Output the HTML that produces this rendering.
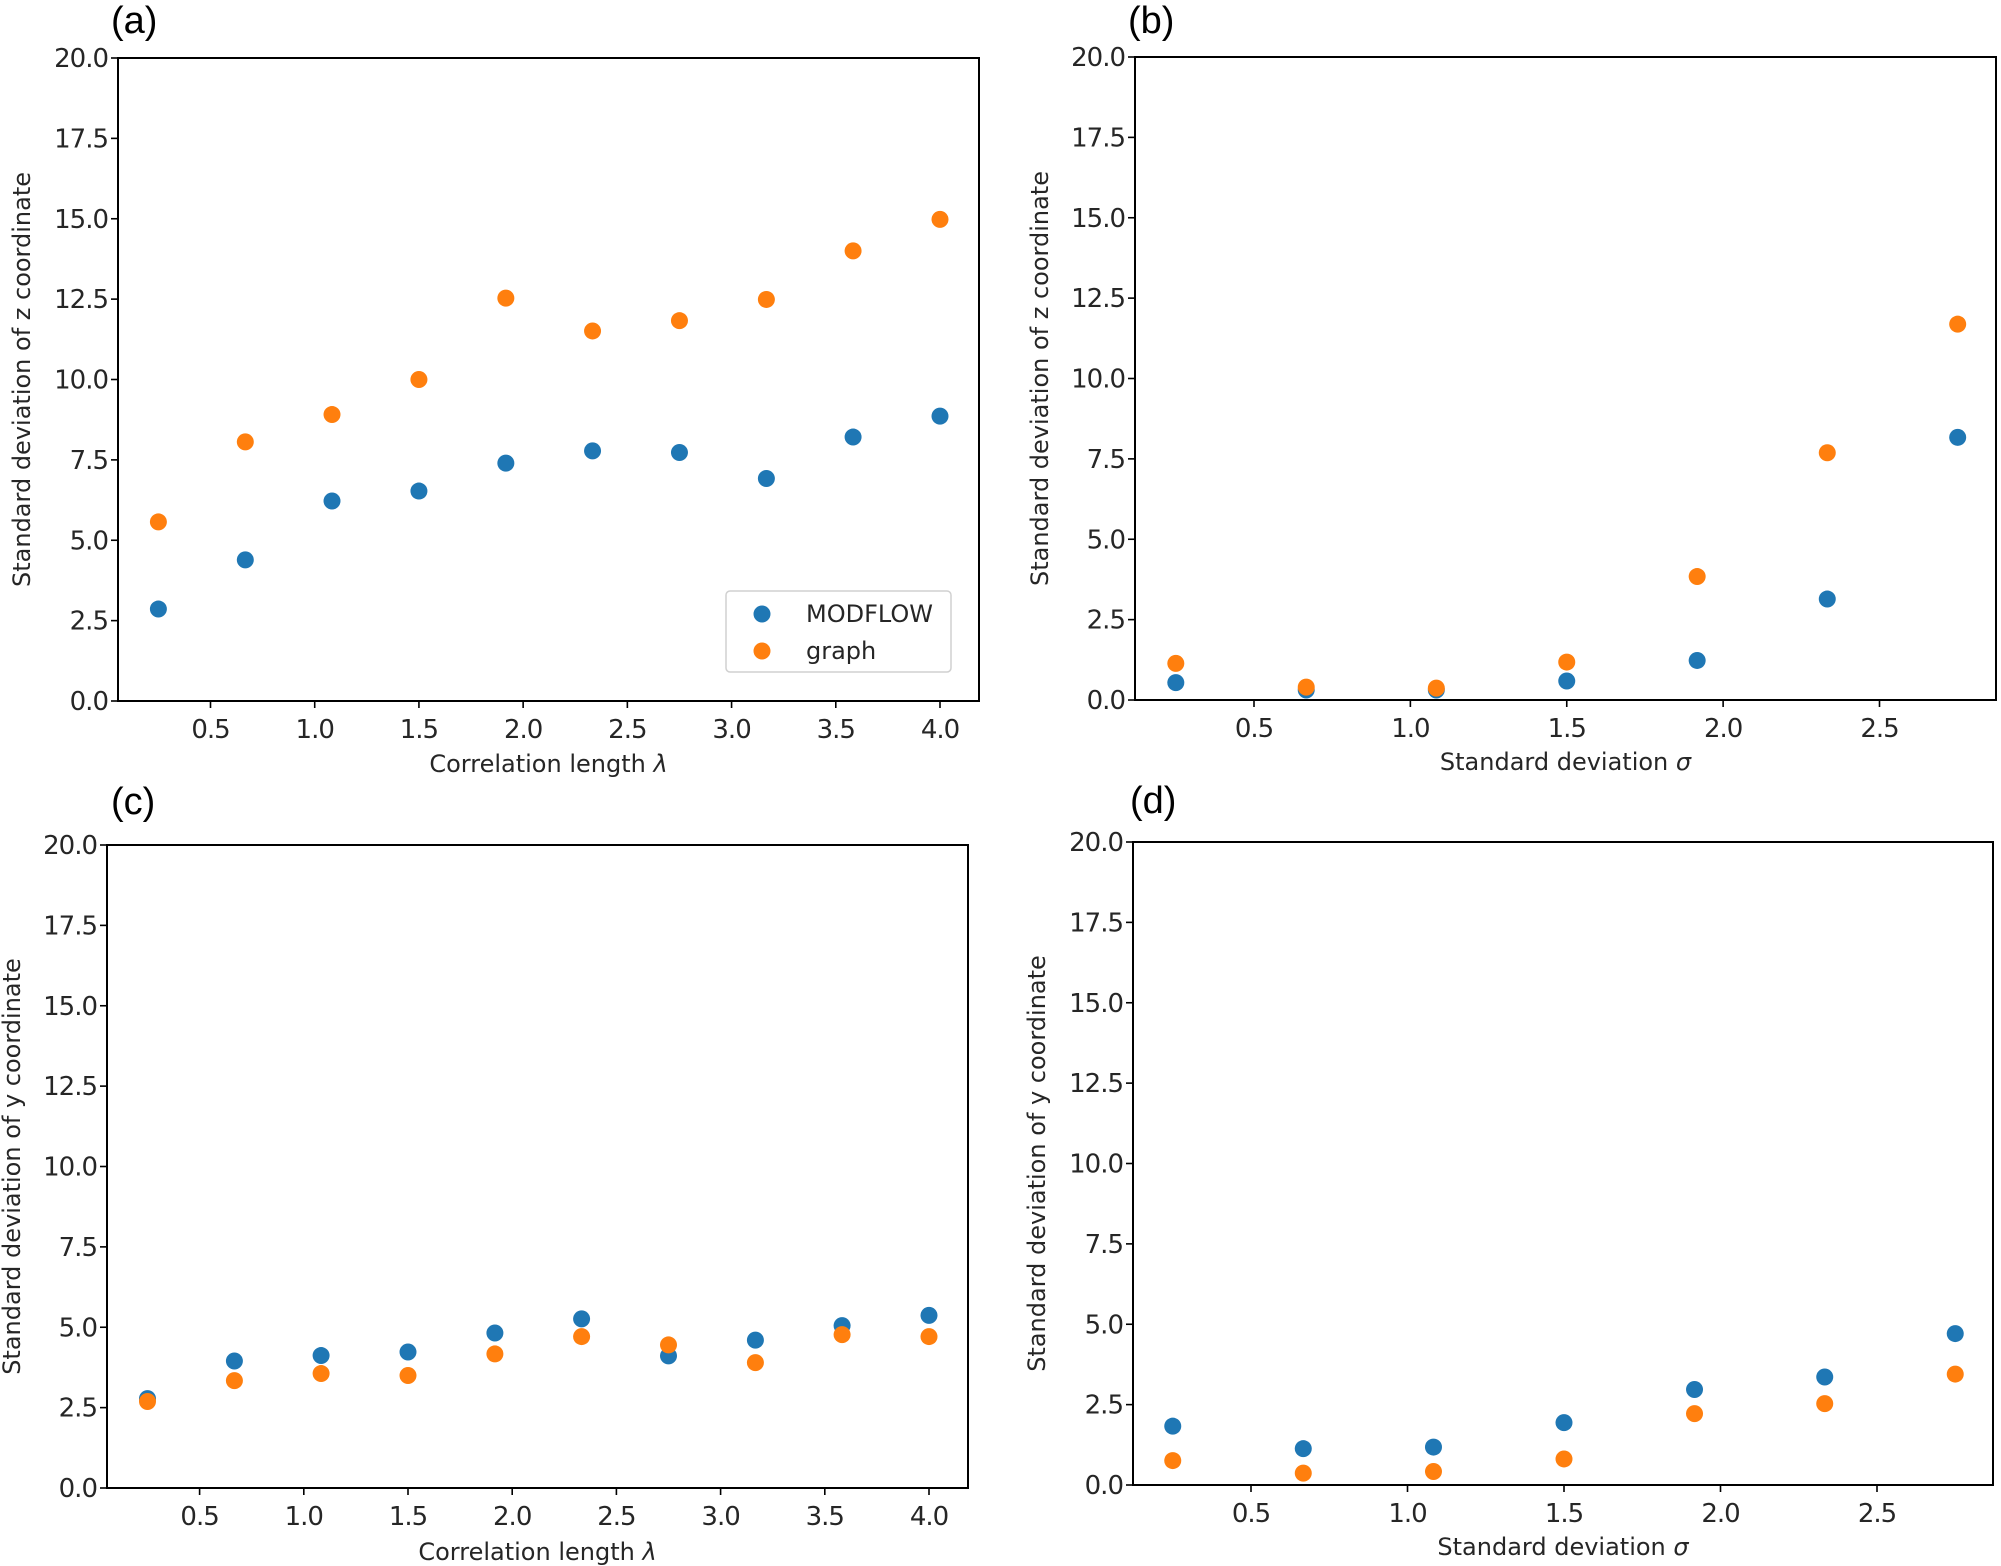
<!DOCTYPE html>
<html><head><meta charset="utf-8"><style>
html,body{margin:0;padding:0;background:#fff}
svg{display:block}
text{fill:#262626}
.tick{font-family:"DejaVu Sans","Liberation Sans",sans-serif;font-size:26px;letter-spacing:-1px}
.ttl{font-family:"DejaVu Sans","Liberation Sans",sans-serif;font-size:24px}
.lab{font-family:"Liberation Sans",sans-serif;font-size:38px;fill:#000}
</style></head><body>
<svg id="fig" width="2001" height="1566" viewBox="0 0 2001 1566" xmlns="http://www.w3.org/2000/svg"></svg>
<script>
const lambdaX = [0.25, 0.667, 1.083, 1.5, 1.917, 2.333, 2.75, 3.167, 3.583, 4.0];
const sigmaX = [0.25, 0.667, 1.083, 1.5, 1.917, 2.333, 2.75];
const aModflow = [2.86, 4.39, 6.22, 6.53, 7.40, 7.78, 7.73, 6.92, 8.21, 8.86];
const aGraph = [5.57, 8.06, 8.91, 10.0, 12.53, 11.51, 11.83, 12.49, 14.0, 14.98];
const bModflow = [0.54, 0.31, 0.31, 0.59, 1.23, 3.14, 8.17];
const bGraph = [1.14, 0.40, 0.37, 1.18, 3.84, 7.69, 11.69];
const cModflow = [2.78, 3.95, 4.12, 4.23, 4.82, 5.26, 4.11, 4.60, 5.05, 5.37];
const cGraph = [2.69, 3.34, 3.56, 3.50, 4.17, 4.71, 4.45, 3.90, 4.77, 4.71];
const dModflow = [1.83, 1.13, 1.18, 1.94, 2.97, 3.36, 4.71];
const dGraph = [0.76, 0.37, 0.42, 0.81, 2.22, 2.53, 3.45];
const yTicks = [0, 2.5, 5, 7.5, 10, 12.5, 15, 17.5, 20];
const lambdaTicks = [0.5, 1.0, 1.5, 2.0, 2.5, 3.0, 3.5, 4.0];
const sigmaTicks = [0.5, 1.0, 1.5, 2.0, 2.5];

const NS = "http://www.w3.org/2000/svg";
const svg = document.getElementById("fig");
function mk(tag, attrs, parent, txt) {
  const e = document.createElementNS(NS, tag);
  for (const k in attrs) e.setAttribute(k, attrs[k]);
  if (txt !== undefined) e.textContent = txt;
  (parent || svg).appendChild(e);
  return e;
}
const BLUE = "#1f77b4", ORANGE = "#ff7f0e";

function panel(p) {
  const g = mk("g", {});
  
  
  const xs = v => p.x0px + (v - p.x0v) * (p.x1px - p.x0px) / (p.x1v - p.x0v);
  const ys = v => p.bottom - v * (p.bottom - p.top) / 20;
  const frame = mk("rect", {x: p.left, y: p.top, width: p.right - p.left, height: p.bottom - p.top, fill: "none", stroke: "#000", "stroke-width": 2}, g);
  
  
  yTicks.forEach(v => {
    const y = ys(v);
    const t = mk("line", {x1: p.left - 7, x2: p.left, y1: y, y2: y, stroke: "#000", "stroke-width": 1.6}, g);
    
    
    const l = mk("text", {x: p.left - 10, y: y + 9, "text-anchor": "end", class: "tick"}, g, v.toFixed(1));
    
    
  });
  p.xticks.forEach(v => {
    const x = xs(v);
    const t = mk("line", {x1: x, x2: x, y1: p.bottom, y2: p.bottom + 7, stroke: "#000", "stroke-width": 1.6}, g);
    
    
    const l = mk("text", {x: x, y: p.bottom + 37, "text-anchor": "middle", class: "tick"}, g, v.toFixed(1));
    
    
  });
  const xt = mk("text", {x: (p.left + p.right) / 2, y: p.xtY, "text-anchor": "middle", class: "ttl"}, g);
  
  
  xt.textContent = p.xtitle + " ";
  mk("tspan", {"font-style": "italic"}, xt, p.sym);
  const cy = (p.top + p.bottom) / 2;
  const yt = mk("text", {x: p.ytX, y: cy, "text-anchor": "middle", class: "ttl", transform: `rotate(-90 ${p.ytX} ${cy})`}, g, p.ytitle);
  
  
  const lab = mk("text", {x: p.labX, y: p.labY, class: "lab"}, g, "(" + p.id + ")");
  
  
  p.xs.forEach((xv, i) => {
    const c1 = mk("circle", {cx: xs(xv), cy: ys(p.blue[i]), r: 8.5, fill: BLUE}, g);
    
    
  });
  p.xs.forEach((xv, i) => {
    const c2 = mk("circle", {cx: xs(xv), cy: ys(p.orange[i]), r: 8.5, fill: ORANGE}, g);
    
    
  });
  return g;
}

panel({id: "a", left: 118, right: 979, top: 58, bottom: 701, x0v: 0.5, x0px: 210.5, x1v: 4.0, x1px: 940,
  xticks: lambdaTicks, xs: lambdaX, blue: aModflow, orange: aGraph,
  xtitle: "Correlation length", sym: "λ", ytitle: "Standard deviation of z coordinate",
  xtY: 772, ytX: 30, labX: 111, labY: 33});
panel({id: "b", left: 1135, right: 1996, top: 57, bottom: 700, x0v: 0.5, x0px: 1254, x1v: 2.5, x1px: 1879.5,
  xticks: sigmaTicks, xs: sigmaX, blue: bModflow, orange: bGraph,
  xtitle: "Standard deviation", sym: "σ", ytitle: "Standard deviation of z coordinate",
  xtY: 770, ytX: 1048, labX: 1128, labY: 33});
panel({id: "c", left: 107, right: 968, top: 845, bottom: 1488, x0v: 0.5, x0px: 199.6, x1v: 4.0, x1px: 929,
  xticks: lambdaTicks, xs: lambdaX, blue: cModflow, orange: cGraph,
  xtitle: "Correlation length", sym: "λ", ytitle: "Standard deviation of y coordinate",
  xtY: 1560, ytX: 20, labX: 111, labY: 814});
panel({id: "d", left: 1133, right: 1993, top: 842, bottom: 1485, x0v: 0.5, x0px: 1251, x1v: 2.5, x1px: 1877,
  xticks: sigmaTicks, xs: sigmaX, blue: dModflow, orange: dGraph,
  xtitle: "Standard deviation", sym: "σ", ytitle: "Standard deviation of y coordinate",
  xtY: 1555, ytX: 1045, labX: 1130, labY: 813});

const lg = mk("g", {});


mk("rect", {x: 726, y: 591, width: 225, height: 81, rx: 4, fill: "#fff", stroke: "#d0d0d0", "stroke-width": 1.5}, lg);
const e1 = mk("circle", {cx: 762, cy: 614, r: 8.5, fill: BLUE}, lg);


const t1 = mk("text", {x: 806, y: 622, class: "ttl"}, lg, "MODFLOW");


const e2 = mk("circle", {cx: 762, cy: 651, r: 8.5, fill: ORANGE}, lg);


const t2 = mk("text", {x: 806, y: 659, class: "ttl"}, lg, "graph");


</script>
</body></html>
